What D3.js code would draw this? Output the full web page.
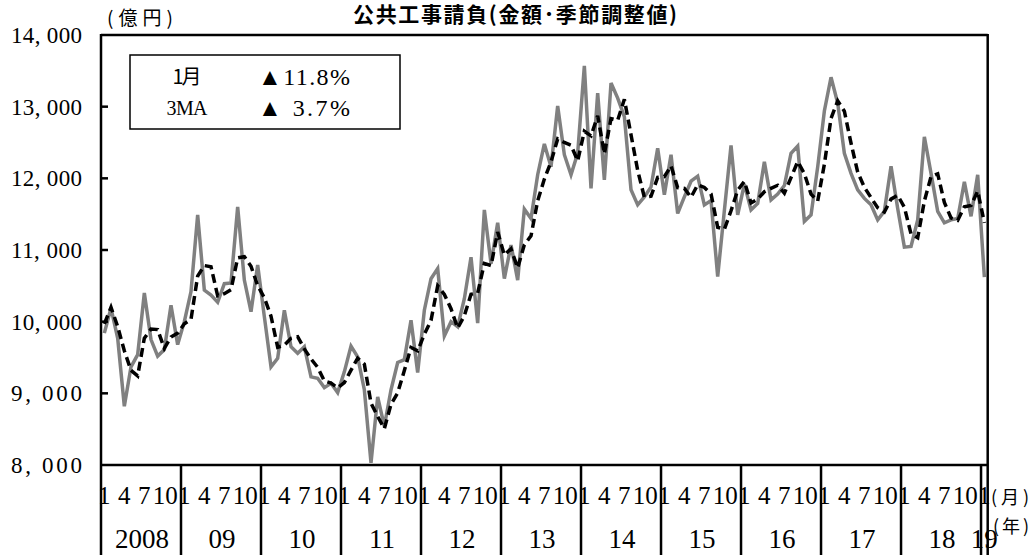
<!DOCTYPE html>
<html>
<head>
<meta charset="utf-8">
<script src="https://cdn.jsdelivr.net/npm/d3@7"></script>
<style>
  body { margin: 0; background: #fff; }
  svg { display: block; }
</style>
</head>
<body>
<div id="chart"></div>
<script>
// monthly values, Jan 2008 .. Jan 2019 (億円)
const monthly = [
  9840, 10190, 9770, 8820, 9370, 9540, 10400, 9750, 9520, 9610, 10230, 9680,
  10000, 10420, 11490, 10440, 10370, 10270, 10530, 10540, 11600, 10580, 10140, 10790,
  10070, 9370, 9490, 10160, 9650, 9560, 9650, 9230, 9210, 9080, 9140, 9010,
  9300, 9660, 9510, 9050, 8030, 8950, 8540, 9050, 9430, 9470, 10020, 9290,
  10160, 10600, 10740, 9800, 10000, 9930, 10320, 10900, 9980, 11560, 10810, 11380,
  10600, 11070, 10580, 11570, 11440, 12050, 12480, 12160, 13010, 12330, 12050, 12350,
  13570, 11860, 13190, 11980, 13330, 13120, 12860, 11840, 11630, 11740, 11880, 12420,
  11770, 12330, 11510, 11740, 11960, 12030, 11630, 11690, 10630, 11550, 12460, 11490,
  11920, 11560, 11650, 12230, 11700, 11780, 11900, 12350, 12450, 11400, 11490, 12160,
  12940, 13410, 13050, 12350, 12070, 11840, 11720, 11630, 11420, 11540, 12170, 11580,
  11040, 11050, 11420, 12580, 12070, 11540, 11380, 11420, 11440, 11950, 11470, 12050,
  10620
];

// 3 month moving average
const ma3 = [
  9970, 10200, 9933, 9593, 9320, 9243, 9770, 9897, 9890, 9627, 9787, 9840,
  9970, 10033, 10637, 10783, 10767, 10360, 10390, 10447, 10890, 10907, 10773, 10503,
  10333, 10077, 9643, 9673, 9767, 9790, 9620, 9480, 9363, 9173, 9143, 9077,
  9150, 9323, 9490, 9407, 8863, 8677, 8507, 8847, 9007, 9317, 9640, 9593,
  9823, 10017, 10500, 10380, 10180, 9910, 10083, 10383, 10400, 10813, 10783, 11250,
  10930, 11017, 10750, 11073, 11197, 11687, 11990, 12230, 12550, 12500, 12463, 12243,
  12657, 12593, 12873, 12343, 12833, 12810, 13103, 12607, 12110, 11737, 11750, 12013,
  12023, 12173, 11870, 11860, 11737, 11910, 11873, 11783, 11317, 11290, 11547, 11833,
  11957, 11657, 11710, 11813, 11860, 11903, 11793, 12010, 12233, 12067, 11780, 11683,
  12197, 12837, 13080, 12937, 12490, 12087, 11877, 11730, 11590, 11530, 11710, 11763,
  11597, 11223, 11170, 11683, 12023, 12063, 11663, 11447, 11413, 11603, 11620, 11823,
  11380
];

const yearLabels = ['2008', '09', '10', '11', '12', '13', '14', '15', '16', '17', '18', '19'];
const monthTicks = [1, 4, 7, 10];
const yTicks = [8000, 9000, 10000, 11000, 12000, 13000, 14000];

const legendNames = ['1月', '3MA'];
const legendValues = ['▲11.8%', '▲ 3.7%'];

const title = '公共工事請負(金額･季節調整値)';

const W = 1034, H = 555;
const pLeft = 101, pTop = 35, pBottom = 465, pRight = 987.7;

const svg = d3.select('#chart').append('svg')
  .attr('width', W)
  .attr('height', H);

const x = d3.scaleBand()
  .domain(d3.range(monthly.length))
  .range([pLeft, pRight]);
const xc = i => x(i) + x.bandwidth() / 2;

const y = d3.scaleLinear()
  .domain([8000, 14000])
  .range([pBottom, pTop]);

const serif = '"Liberation Serif", "DejaVu Serif", serif';
const jp = '"Noto Sans CJK JP", sans-serif';

// title and unit
svg.append('text')
  .attr('x', 353).attr('y', 22)
  .attr('font-family', jp)
  .attr('font-weight', 'bold')
  .attr('font-size', 21)
  .attr('textLength', 324)
  .attr('lengthAdjust', 'spacing')
  .text(title);

svg.append('text')
  .attr('x', 107).attr('y', 25)
  .attr('font-family', jp)
  .attr('font-size', 19)
  .attr('textLength', 66)
  .attr('lengthAdjust', 'spacing')
  .text('(億円)');

// y tick labels
yTicks.forEach(t => {
  svg.append('text')
    .attr('x', 11).attr('y', y(t) + 8)
    .attr('font-family', serif)
    .attr('font-size', 23)
    .attr('textLength', 71)
    .attr('lengthAdjust', 'spacing')
    .text(d3.format(',')(t).replace(',', ', '));
});

// month labels and year labels
d3.range(monthly.length).forEach(i => {
  const m = i % 12 + 1;
  if (monthTicks.includes(m)) {
    svg.append('text')
      .attr('x', xc(i) + (m === 10 ? 1 : 0)).attr('y', 504)
      .attr('text-anchor', 'middle')
      .attr('font-family', serif)
      .attr('font-size', 25)
      .text(m);
  }
});

yearLabels.forEach((lab, k) => {
  const i0 = k * 12;
  const i1 = Math.min(i0 + 11, monthly.length - 1);
  const cx = k < yearLabels.length - 1 ? (x(i0) + x(i1) + x.bandwidth()) / 2 + 1 : xc(i0);
  svg.append('text')
    .attr('x', cx).attr('y', 548)
    .attr('text-anchor', 'middle')
    .attr('font-family', serif)
    .attr('font-size', 27)
    .text(lab);
});

svg.append('text')
  .attr('x', 991).attr('y', 504)
  .attr('font-family', jp)
  .attr('font-size', 18)
  .attr('textLength', 38)
  .attr('lengthAdjust', 'spacing')
  .text('(月)');
svg.append('text')
  .attr('x', 993).attr('y', 533)
  .attr('font-family', jp)
  .attr('font-size', 18)
  .attr('textLength', 36)
  .attr('lengthAdjust', 'spacing')
  .text('(年)');

// lines
const line = d3.line()
  .x((d, i) => xc(i))
  .y(d => y(d));

svg.append('path')
  .datum(monthly)
  .attr('d', line)
  .attr('fill', 'none')
  .attr('stroke', '#808080')
  .attr('stroke-width', 3.5)
  .attr('stroke-linejoin', 'miter');

svg.append('path')
  .datum(ma3)
  .attr('d', line)
  .attr('fill', 'none')
  .attr('stroke', '#000')
  .attr('stroke-width', 3.5)
  .attr('stroke-dasharray', '9,5');

// frame
const frame = svg.append('g').attr('stroke', '#000').attr('stroke-width', 2.5);
frame.append('line').attr('x1', pLeft).attr('x2', pRight).attr('y1', pTop).attr('y2', pTop);
frame.append('line').attr('x1', pRight).attr('x2', pRight).attr('y1', pTop - 1).attr('y2', H);
frame.append('line').attr('x1', pLeft).attr('x2', pLeft).attr('y1', pTop - 1).attr('y2', H);
frame.append('line').attr('x1', pLeft).attr('x2', pRight).attr('y1', pBottom).attr('y2', pBottom);

yTicks.slice(1, -1).forEach(t => {
  frame.append('line')
    .attr('x1', pLeft).attr('x2', pLeft + 7)
    .attr('y1', y(t)).attr('y2', y(t));
});

// year separators below axis
d3.range(1, yearLabels.length).forEach(k => {
  frame.append('line')
    .attr('x1', x(k * 12)).attr('x2', x(k * 12))
    .attr('y1', pBottom).attr('y2', H);
});

// legend box
svg.append('rect')
  .attr('x', 130).attr('y', 55)
  .attr('width', 270).attr('height', 74)
  .attr('fill', '#fff')
  .attr('stroke', '#000')
  .attr('stroke-width', 1.5);

const nameWidths = [29, 41];
legendNames.forEach((n, k) => {
  svg.append('text')
    .attr('x', 187 - nameWidths[k] / 2).attr('y', 84 + k * 31)
    .attr('font-family', k === 0 ? jp : serif)
    .attr('font-size', 20)
    .attr('textLength', nameWidths[k])
    .attr('lengthAdjust', 'spacing')
    .text(n);
  svg.append('text')
    .attr('x', 258).attr('y', 85 + k * 31)
    .attr('font-family', serif)
    .attr('font-size', 24)
    .attr('textLength', 92)
    .attr('lengthAdjust', 'spacing')
    .text(legendValues[k]);
});
</script>
</body>
</html>
